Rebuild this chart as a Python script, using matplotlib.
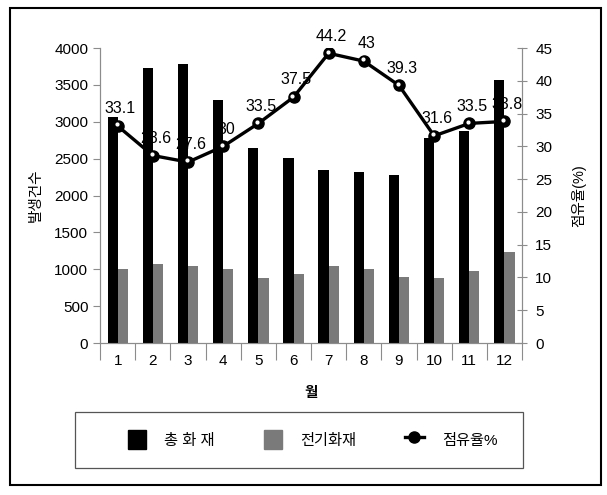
import matplotlib.pyplot as plt
from matplotlib.lines import Line2D
from matplotlib.patches import Patch, Rectangle
import numpy as np

plt.rcParams["font.family"] = ["Liberation Sans", "Noto Sans CJK KR"]

months = ["1", "2", "3", "4", "5", "6", "7", "8", "9", "10", "11", "12"]
total_fires = [3060, 3730, 3780, 3290, 2640, 2510, 2340, 2320, 2280, 2780, 2880, 3560]
electric_fires = [1010, 1070, 1050, 1000, 880, 940, 1040, 1010, 900, 880, 970, 1230]
share_pct = [33.1, 28.6, 27.6, 30.0, 33.5, 37.5, 44.2, 43.0, 39.3, 31.6, 33.5, 33.8]
share_labels = ["33.1", "28.6", "27.6", "30", "33.5", "37.5", "44.2", "43", "39.3", "31.6", "33.5", "33.8"]

x = np.arange(1, len(months) + 1)
bar_w = 0.29
axis_grey = "#8c8c8c"
elec_grey = "#7a7a7a"

fig = plt.figure(figsize=(6.07, 4.95), dpi=100)
ax = fig.add_axes([0.165, 0.307, 0.695, 0.596])
ax2 = ax.twinx()

# value labels sit behind the bars, the line sits in front
ax.set_zorder(1)
ax2.set_zorder(2)
ax2.patch.set_visible(False)

ax.bar(x - bar_w / 2, total_fires, width=bar_w, color="black", zorder=3)
ax.bar(x + bar_w / 2, electric_fires, width=bar_w, color=elec_grey, zorder=3)

for xi, v, s in zip(x, share_pct, share_labels):
    ax.annotate(s, xy=(xi, v), xycoords=ax2.transData, xytext=(2, 7),
                textcoords="offset points", ha="center", va="bottom",
                fontsize=11.5, zorder=2)

ax2.plot(x, share_pct, color="black", lw=2.4, marker="o", ms=8,
         markerfacecolor="black", markeredgecolor="black")
ax2.plot(x - 0.03, np.array(share_pct) + 0.25, ls="none", marker="o", ms=2,
         color="white")

ax.set_xlim(0.5, 12.5)
ax.set_ylim(0, 4000)
ax.set_yticks(range(0, 4001, 500))
ax2.set_ylim(0, 45)
ax2.set_yticks(range(0, 46, 5))

# category boundaries as ticks, labels centred between them
ax.set_xticks(np.arange(0.5, 12.6, 1))
ax.set_xticklabels([])
ax.set_xticks(x, minor=True)
ax.set_xticklabels(months, minor=True)
ax.tick_params(axis="x", which="major", length=12, color=axis_grey, width=0.8)
ax.tick_params(axis="x", which="minor", length=0, pad=8, labelsize=11)
ax.tick_params(axis="y", length=5, color=axis_grey, width=0.8, labelsize=11)
ax2.tick_params(axis="y", length=7, color=axis_grey, width=0.8, labelsize=11,
                direction="inout", pad=6)

for a in (ax, ax2):
    a.spines["top"].set_visible(False)
    for side in ("left", "right", "bottom"):
        a.spines[side].set_color(axis_grey)
        a.spines[side].set_linewidth(0.8)

ax.set_ylabel("발생건수", fontsize=10.5, labelpad=8)
ax2.set_ylabel("점유율(%)", fontsize=10.5, rotation=90, labelpad=14)
ax.set_xlabel("월", fontsize=10.5, labelpad=13, fontweight="bold")

handles = [
    Patch(facecolor="black", edgecolor="black"),
    Patch(facecolor=elec_grey, edgecolor=elec_grey),
    Line2D([0], [0], color="black", lw=2.4, marker="o", ms=8),
]
fig.legend(handles, ["총 화 재", "전기화재", "점유율%"], ncol=3,
           loc="center", bbox_to_anchor=(0.515, 0.112), frameon=False,
           fontsize=11, handlelength=1.2, handleheight=1.6, handletextpad=1.2,
           columnspacing=3.2)

# legend frame and outer border
fig.patches.append(Rectangle((0.124, 0.055), 0.738, 0.113, transform=fig.transFigure,
                             fill=False, edgecolor="#555555", lw=0.9))
fig.patches.append(Rectangle((0.017, 0.02), 0.973, 0.963, transform=fig.transFigure,
                             fill=False, edgecolor="black", lw=1.5))

fig.savefig("out.png", dpi=100)
